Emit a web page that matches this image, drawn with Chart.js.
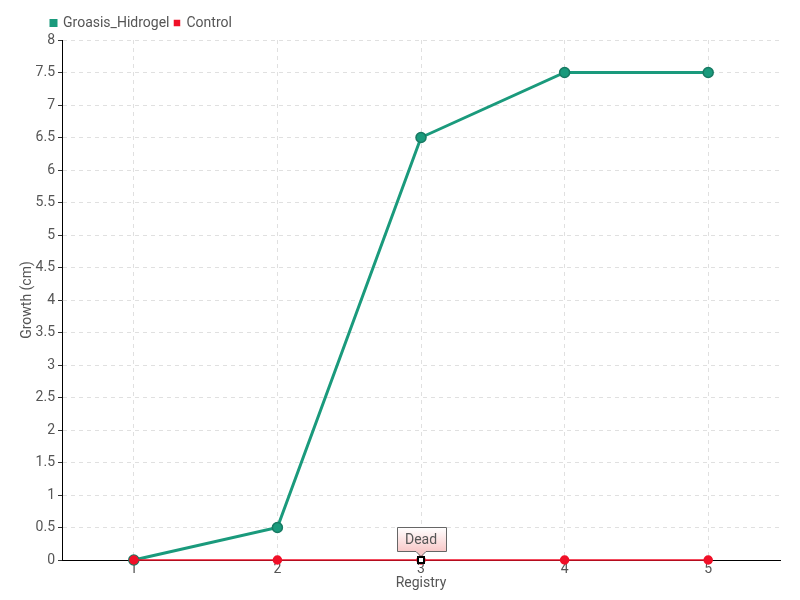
<!DOCTYPE html>
<html>
<head>
<meta charset="utf-8">
<script src="https://cdn.jsdelivr.net/npm/chart.js@4"></script>
<style>
  html, body { margin: 0; padding: 0; background: #fff; }
  #wrap { width: 800px; height: 600px; }
</style>
</head>
<body>
<div id="wrap"><canvas id="chart" width="800" height="600"></canvas></div>
<script>
var registry = ['1', '2', '3', '4', '5'];
var groasisHidrogel = [0, 0.5, 6.5, 7.5, 7.5];
var control = [0, 0, 0, 0, 0];
var noteIndex = 2;
var noteText = 'Dead';

var font = "Roboto, 'DejaVu Sans', sans-serif";
Chart.defaults.font.family = font;
Chart.defaults.color = '#555';

// little callout box above a control point
var notePlugin = {
    id: 'note',
    afterLayout: function(chart) {
        // push the legend right so it starts near the y axis
        chart.legend.left += 46;
        chart.legend.right += 46;
    },
    afterDatasetsDraw: function(chart) {
        var ctx = chart.ctx;
        var pt = chart.getDatasetMeta(1).data[noteIndex];
        var x = pt.x, y = pt.y;
        ctx.save();
        ctx.font = '14px ' + font;
        var w = 49;
        var h = 24;
        var bx = Math.round(x - w / 2) + 0.5, by = y - 9 - h + 0.5;
        var g = ctx.createLinearGradient(0, by, 0, by + h);
        g.addColorStop(0, '#ffffff');
        g.addColorStop(1, '#f8c8c8');
        ctx.beginPath();
        ctx.moveTo(bx, by);
        ctx.lineTo(bx + w, by);
        ctx.lineTo(bx + w, by + h);
        ctx.lineTo(x + 5, by + h);
        ctx.lineTo(x, by + h + 5);
        ctx.lineTo(x - 5, by + h);
        ctx.lineTo(bx, by + h);
        ctx.closePath();
        ctx.fillStyle = g;
        ctx.fill();
        ctx.strokeStyle = '#666';
        ctx.lineWidth = 1;
        ctx.stroke();
        ctx.fillStyle = '#555';
        ctx.textAlign = 'center';
        ctx.textBaseline = 'middle';
        ctx.fillText(noteText, x, by + h / 2 + 1);
        // marked point
        ctx.fillStyle = '#fff';
        ctx.strokeStyle = '#000';
        ctx.lineWidth = 2;
        ctx.fillRect(x - 3, y - 3, 6, 6);
        ctx.strokeRect(x - 3, y - 3, 6, 6);
        ctx.restore();
    }
};

var ctx = document.getElementById('chart').getContext('2d');
new Chart(ctx, {
    type: 'line',
    data: {
        labels: registry,
        datasets: [{
            label: 'Groasis_Hidrogel',
            data: groasisHidrogel,
            borderColor: '#1a9a7c',
            backgroundColor: '#1a9a7c',
            pointBackgroundColor: '#1a9a7c',
            pointBorderColor: '#177a63',
            pointBorderWidth: 1.5,
            pointRadius: 5,
            borderWidth: 3,
            tension: 0,
            clip: false,
            order: 1
        }, {
            label: 'Control',
            data: control,
            borderColor: '#f01028',
            backgroundColor: '#f01028',
            pointBackgroundColor: '#f01028',
            pointBorderColor: '#f01028',
            pointRadius: 4,
            borderWidth: 1.5,
            tension: 0,
            clip: false,
            order: 0
        }]
    },
    options: {
        responsive: false,
        animation: false,
        layout: { padding: { left: 0, right: 20, top: 11, bottom: 8 } },
        plugins: {
            legend: {
                position: 'top',
                align: 'start',
                labels: {
                    boxWidth: 5,
                    boxHeight: 5,
                    padding: 5,
                    font: { size: 14 },
                    color: '#555',
                    sort: function(a, b) { return a.datasetIndex - b.datasetIndex; }
                }
            },
            tooltip: { enabled: false }
        },
        scales: {
            x: {
                offset: true,
                afterFit: function(scale) { scale.height = 32; },
                title: { display: true, text: 'Registry', font: { size: 14 }, padding: 0, color: '#555' },
                grid: { color: '#e0e0e0', drawTicks: false },
                border: { color: '#000', dash: [4, 4], display: true },
                ticks: { font: { size: 14 }, padding: 1, color: '#555' }
            },
            y: {
                min: 0,
                max: 8,
                afterFit: function(scale) { scale.width = 62; },
                title: { display: true, text: 'Growth (cm)', font: { size: 14 }, padding: { top: 19, bottom: 0 }, color: '#555' },
                grid: { color: '#e0e0e0', tickColor: '#333', tickLength: 4 },
                border: { color: '#000', dash: [4, 4] },
                ticks: {
                    stepSize: 0.5,
                    font: { size: 14 },
                    padding: 3,
                    color: '#555',
                    callback: function(v) { return String(v); }
                }
            }
        }
    },
    plugins: [notePlugin]
});
</script>
</body>
</html>
